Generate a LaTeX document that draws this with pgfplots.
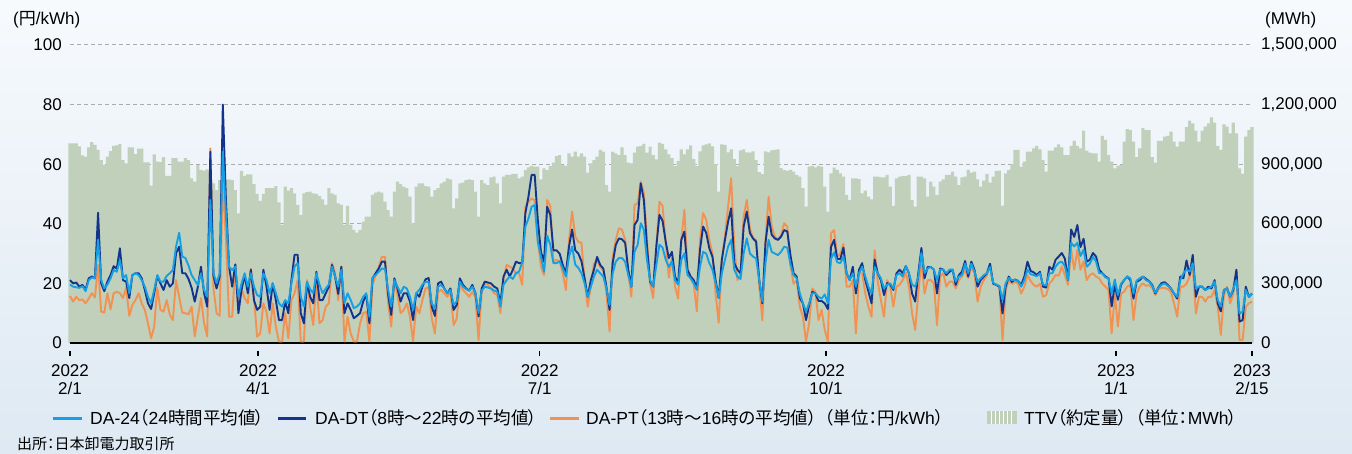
\documentclass[border=0pt]{standalone}
\usepackage{pgfplots}
\pgfplotsset{compat=1.18}
\usepackage{pgfplotstable}
\usepackage{fontspec}
\setmainfont{Liberation Sans}
\newfontfamily\jp{Noto Sans CJK JP}[RawFeature=+palt]
\newcommand{\J}[1]{{\jp #1}}
\definecolor{c24}{RGB}{20,160,228}
\definecolor{cdt}{RGB}{18,52,140}
\definecolor{cpt}{RGB}{242,146,82}
\definecolor{cttv}{RGB}{192,208,186}
\definecolor{gridc}{RGB}{172,172,172}
\definecolor{bgtop}{RGB}{247,250,253}
\definecolor{bgbot}{RGB}{222,233,243}
\newcommand{\myTk}{\fontsize{17}{18}\selectfont}
\newcommand{\myLg}{\fontsize{17.5}{20}\selectfont}
\newcommand{\myFn}{\fontsize{15}{17}\selectfont}

\pgfplotstableread{
d a b c t
0 19.6 21.1 15.8 1005000
1 18.9 20.0 13.9 1005000
2 18.7 20.3 15.5 1005000
3 18.5 18.9 14.4 990000
4 19.1 19.5 14.6 945000
5 17.4 17.9 13.3 938000
6 21.1 21.7 14.9 985000
7 22.0 22.3 16.7 1011000
8 21.7 21.7 15.3 997000
9 34.6 43.7 26.2 972000
10 21.1 20.0 10.5 921000
11 18.3 17.4 10.2 896000
12 19.6 20.6 16.7 938000
13 21.7 22.8 11.3 966000
14 24.5 25.8 16.7 992000
15 23.9 24.9 17.2 995000
16 27.9 31.8 16.7 1002000
17 21.7 21.1 15.1 921000
18 22.8 20.6 18.5 904000
19 16.7 15.1 9.1 985000
20 22.8 22.8 12.8 985000
21 23.4 23.4 14.4 951000
22 22.8 23.4 16.7 978000
23 21.1 21.7 13.3 978000
24 18.9 17.8 11.1 909000
25 15.5 13.3 6.6 909000
26 13.3 11.4 1.6 792000
27 17.8 16.7 5.5 950000
28 22.8 22.5 18.5 913000
29 20.6 20.0 11.1 910000
30 20.6 17.8 10.5 935000
31 22.5 21.1 14.4 841000
32 23.4 18.9 9.5 841000
33 24.5 20.0 7.7 930000
34 32.3 30.1 21.1 930000
35 37.0 32.3 15.5 913000
36 29.0 23.4 10.2 913000
37 28.5 23.4 10.0 930000
38 26.0 21.5 9.6 921000
39 22.8 18.5 12.2 829000
40 21.1 13.9 2.2 812000
41 19.4 18.9 8.8 896000
42 23.4 25.6 15.1 871000
43 17.8 16.7 6.6 868000
44 15.5 12.2 2.2 874000
45 48.0 64.2 65.3 804000
46 23.4 22.5 18.5 804000
47 20.1 18.3 10.0 770000
48 23.4 22.3 9.1 820000
49 64.2 80.0 55.0 820000
50 43.5 48.0 34.6 824000
51 25.6 25.6 8.8 824000
52 24.5 18.9 8.8 820000
53 25.6 26.4 26.0 770000
54 15.5 10.0 13.0 653000
55 19.9 17.8 18.3 866000
56 23.4 22.8 15.1 841000
57 18.9 16.7 13.3 849000
58 23.4 24.6 25.0 849000
59 18.9 14.3 15.1 800000
60 16.1 11.1 2.1 750000
61 15.5 12.2 3.2 715000
62 23.4 24.6 13.3 750000
63 21.1 18.9 10.5 779000
64 16.7 11.1 3.2 779000
65 20.0 20.0 13.3 779000
66 16.7 14.4 5.5 790000
67 13.3 7.7 0.5 708000
68 12.2 7.7 0.5 594000
69 14.4 13.9 10.0 787000
70 13.3 10.0 1.6 767000
71 20.0 21.1 14.4 779000
72 25.6 29.6 16.7 753000
73 26.8 29.6 21.1 695000
74 15.5 10.0 0.5 644000
75 12.2 6.6 0.5 753000
76 20.5 20.3 21.1 759000
77 18.0 15.5 12.0 762000
78 16.7 13.3 6.0 753000
79 23.4 23.9 21.1 750000
80 19.6 14.4 6.6 740000
81 16.7 14.4 7.7 723000
82 18.3 16.7 12.2 695000
83 19.6 18.9 13.3 779000
84 25.6 26.2 26.8 753000
85 22.3 22.3 23.4 745000
86 18.9 16.5 14.4 703000
87 24.5 25.6 25.6 695000
88 13.3 10.0 0.5 594000
89 16.7 13.3 8.8 690000
90 14.4 11.1 3.2 594000
91 11.7 8.3 0.5 569000
92 12.2 9.1 0.5 555000
93 13.3 10.0 6.6 569000
94 15.5 13.9 10.0 611000
95 16.7 16.1 10.5 636000
96 8.8 6.6 0.5 636000
97 22.0 21.7 19.5 745000
98 22.8 23.4 22.8 757000
99 23.9 25.0 25.6 762000
100 25.0 27.3 28.9 757000
101 24.8 27.3 28.9 711000
102 17.8 16.3 13.3 669000
103 12.2 9.4 5.5 636000
104 21.1 21.7 21.1 762000
105 18.9 18.3 16.1 812000
106 16.7 13.9 10.0 800000
107 18.9 16.7 11.1 787000
108 18.3 16.7 13.3 779000
109 15.5 13.9 8.8 737000
110 11.1 7.7 0.5 602000
111 16.7 16.7 12.2 787000
112 17.8 15.5 10.0 804000
113 19.6 18.9 14.4 804000
114 20.5 21.4 18.3 790000
115 20.5 21.8 18.6 787000
116 13.3 12.2 8.2 737000
117 11.6 9.1 3.2 770000
118 18.9 20.0 17.2 779000
119 19.5 20.6 17.8 804000
120 18.3 18.3 16.7 812000
121 16.7 16.7 15.5 829000
122 17.8 18.3 17.2 824000
123 12.8 11.1 6.0 678000
124 13.9 12.8 8.2 728000
125 20.6 21.7 20.0 804000
126 18.9 19.5 17.8 807000
127 18.1 18.3 16.7 820000
128 17.6 17.6 15.5 824000
129 18.9 19.5 17.2 820000
130 16.7 16.7 15.1 762000
131 10.0 8.9 1.0 636000
132 17.6 18.3 17.2 820000
133 18.9 20.6 20.0 804000
134 18.6 20.3 19.5 795000
135 18.3 20.0 18.3 834000
136 17.6 18.9 16.7 837000
137 17.2 18.3 16.1 804000
138 12.2 13.3 10.0 703000
139 19.5 22.3 21.3 837000
140 21.1 24.6 26.2 846000
141 22.3 22.3 25.6 846000
142 21.5 24.6 25.0 851000
143 23.4 27.3 23.4 851000
144 24.0 26.8 23.4 829000
145 27.1 26.8 19.5 837000
146 39.0 43.5 45.7 871000
147 41.8 49.1 47.4 884000
148 45.7 56.4 48.5 891000
149 46.3 56.4 47.9 888000
150 34.0 41.3 34.6 888000
151 29.0 30.6 25.6 824000
152 23.9 27.3 22.8 879000
153 36.0 45.7 48.0 870000
154 33.0 43.0 46.0 890000
155 26.8 31.1 27.4 908000
156 26.8 31.1 27.9 941000
157 27.4 30.0 27.4 946000
158 25.0 26.2 23.4 896000
159 22.3 23.4 17.8 891000
160 29.0 32.4 34.6 955000
161 32.4 38.1 44.1 938000
162 26.3 31.1 35.7 963000
163 25.2 30.0 34.0 938000
164 23.4 27.4 33.6 955000
165 20.0 21.7 21.1 938000
166 15.5 15.5 12.2 857000
167 18.9 21.1 18.9 904000
168 22.3 24.6 26.6 921000
169 24.6 28.9 27.7 938000
170 23.4 26.2 25.5 972000
171 22.3 25.0 24.4 963000
172 18.3 18.9 16.7 795000
173 12.7 11.1 3.9 762000
174 23.4 26.8 28.9 963000
175 27.3 32.9 34.6 955000
176 28.5 35.1 38.5 946000
177 28.5 34.8 38.0 985000
178 27.3 33.6 34.6 946000
179 22.8 24.6 23.4 908000
180 18.9 18.9 15.5 904000
181 30.6 39.6 46.3 958000
182 32.9 41.3 46.9 988000
183 40.2 53.6 54.1 992000
184 38.0 48.0 50.3 1002000
185 27.9 32.4 34.6 958000
186 21.1 20.6 20.0 988000
187 18.9 18.9 15.1 946000
188 26.2 32.4 32.4 924000
189 33.0 43.0 47.4 1008000
190 32.0 41.0 46.0 1002000
191 28.0 34.0 34.0 975000
192 25.5 28.5 22.0 950000
193 27.4 30.6 28.5 930000
194 21.1 22.3 18.9 890000
195 19.6 20.1 14.9 915000
196 27.9 34.6 34.6 975000
197 30.1 37.4 44.7 950000
198 22.8 24.6 24.6 975000
199 21.7 22.3 21.7 995000
200 20.1 21.1 19.6 925000
201 17.8 18.3 10.6 890000
202 25.6 31.3 34.6 965000
203 30.6 39.1 43.6 995000
204 30.0 36.9 41.3 1000000
205 26.8 31.7 34.6 1005000
206 24.6 28.9 30.2 990000
207 20.1 21.1 16.6 900000
208 15.1 15.1 6.8 762000
209 23.4 27.9 27.9 1000000
210 27.9 34.6 35.7 997000
211 32.3 40.7 45.7 960000
212 34.6 45.2 55.3 975000
213 24.6 26.8 32.2 925000
214 22.3 24.6 21.1 890000
215 21.5 23.4 23.4 970000
216 30.1 39.1 42.4 975000
217 35.1 44.1 48.0 960000
218 30.1 36.9 38.5 958000
219 29.0 35.1 35.1 965000
220 28.4 34.0 34.6 920000
221 21.1 21.1 18.9 860000
222 13.9 13.3 7.6 850000
223 26.8 33.6 34.6 965000
224 34.6 42.4 49.1 960000
225 30.6 36.3 39.1 970000
226 30.0 35.1 35.7 972000
227 29.5 34.6 34.6 975000
228 30.6 35.7 36.2 880000
229 32.3 37.9 40.2 870000
230 32.0 37.4 39.0 866000
231 26.5 29.5 26.0 871000
232 22.8 23.4 19.9 862000
233 21.7 22.3 21.1 846000
234 16.7 15.1 12.2 837000
235 13.3 13.3 8.8 779000
236 10.6 7.7 0.5 686000
237 13.3 12.8 6.6 888000
238 16.7 17.2 18.3 891000
239 16.7 16.6 17.2 884000
240 15.5 14.1 7.7 891000
241 14.9 14.1 11.1 888000
242 16.3 13.3 4.4 787000
243 13.3 11.4 0.5 661000
244 28.2 32.2 36.8 854000
245 30.4 34.6 37.9 883000
246 27.1 28.2 28.9 871000
247 26.8 28.2 30.0 854000
248 29.0 32.0 33.2 837000
249 23.4 23.4 18.9 745000
250 21.1 21.1 18.9 720000
251 23.4 25.6 21.1 829000
252 18.9 16.6 3.2 829000
253 23.4 24.6 23.4 825000
254 25.6 26.8 23.4 753000
255 22.3 21.1 16.6 767000
256 18.9 17.3 12.2 737000
257 16.6 13.3 8.8 723000
258 25.6 28.0 31.1 837000
259 23.4 23.4 20.6 837000
260 21.7 21.1 14.4 834000
261 18.3 16.1 8.8 834000
262 19.6 20.1 21.1 846000
263 20.0 19.6 18.9 787000
264 18.3 17.8 12.2 690000
265 22.8 23.4 18.9 829000
266 23.4 24.6 19.5 837000
267 22.3 23.4 21.1 840000
268 25.8 25.8 23.6 840000
269 23.4 23.4 18.9 846000
270 19.6 16.6 10.0 720000
271 18.9 13.9 4.4 686000
272 22.3 23.4 16.6 837000
273 30.2 31.9 27.9 837000
274 23.4 21.7 16.6 829000
275 25.0 25.5 21.1 737000
276 25.5 25.5 21.1 812000
277 24.6 24.6 20.0 787000
278 21.1 16.6 6.0 745000
279 24.6 25.0 22.3 812000
280 24.6 24.6 23.4 824000
281 23.4 22.8 18.9 846000
282 24.6 23.9 20.6 846000
283 24.6 24.6 20.6 862000
284 20.6 19.5 18.3 837000
285 22.3 22.8 21.1 795000
286 22.8 23.9 22.3 834000
287 26.6 27.5 24.6 837000
288 23.4 22.3 21.8 871000
289 26.6 27.3 25.5 857000
290 24.0 24.6 23.4 862000
291 20.6 18.9 13.9 824000
292 21.7 21.1 18.9 787000
293 22.8 22.3 21.1 817000
294 23.4 23.4 22.8 851000
295 25.5 26.6 26.4 807000
296 20.2 19.9 19.9 837000
297 19.6 19.5 19.5 866000
298 19.1 18.9 18.9 868000
299 14.4 9.9 0.9 691000
300 20.0 18.9 17.7 854000
301 21.8 22.3 21.1 871000
302 21.1 20.5 19.9 901000
303 21.1 21.3 20.5 972000
304 20.9 20.8 19.9 972000
305 18.9 19.5 16.6 888000
306 21.1 22.3 18.9 913000
307 24.6 27.3 22.8 963000
308 23.1 24.2 20.8 963000
309 22.8 23.7 19.5 980000
310 22.4 22.8 18.9 992000
311 23.4 23.9 19.9 975000
312 19.6 18.9 15.5 921000
313 19.3 18.6 16.1 862000
314 23.4 25.6 19.9 968000
315 23.4 24.6 21.1 968000
316 25.6 27.9 22.8 985000
317 26.9 29.0 22.6 1000000
318 27.3 30.2 25.6 985000
319 25.8 28.3 22.8 946000
320 21.1 21.1 19.5 946000
321 33.6 38.1 31.3 992000
322 32.4 35.6 24.6 1018000
323 33.6 39.6 31.3 992000
324 29.2 32.2 24.6 980000
325 31.3 35.0 27.4 1069000
326 25.6 27.3 21.1 968000
327 26.6 27.9 22.8 958000
328 28.9 30.2 23.4 955000
329 27.3 29.0 22.3 955000
330 23.4 24.6 21.7 913000
331 23.4 23.4 19.9 1042000
332 22.0 22.3 18.9 1022000
333 21.7 21.7 17.8 946000
334 16.6 12.3 3.2 913000
335 21.3 19.5 16.6 879000
336 16.1 14.5 5.5 891000
337 19.9 19.5 16.6 896000
338 21.1 21.1 17.2 1013000
339 22.3 22.3 18.9 1076000
340 21.7 21.1 19.5 1072000
341 16.6 14.9 7.7 1013000
342 20.9 20.6 16.6 935000
343 21.7 21.1 18.9 980000
344 22.3 22.3 20.0 1081000
345 21.1 21.5 19.2 1072000
346 20.6 20.7 19.4 1072000
347 19.2 19.5 18.5 935000
348 16.9 16.6 16.1 908000
349 18.5 18.7 18.1 1018000
350 19.6 20.1 18.5 1018000
351 20.0 20.4 18.5 1039000
352 19.2 19.5 18.1 1042000
353 18.3 18.3 17.2 1064000
354 16.6 16.6 13.3 1013000
355 15.5 14.9 8.8 988000
356 21.1 22.3 18.9 1013000
357 23.4 21.7 18.9 1013000
358 24.6 27.7 19.9 1086000
359 24.0 22.8 22.3 1119000
360 26.8 29.6 25.5 1106000
361 18.3 15.5 9.9 1069000
362 18.9 18.9 15.5 1013000
363 18.9 18.9 15.5 1069000
364 17.8 17.8 13.9 1089000
365 18.3 18.9 15.5 1106000
366 18.9 18.3 15.5 1136000
367 20.6 21.1 17.8 1109000
368 14.5 13.3 12.2 992000
369 12.2 10.6 2.7 972000
370 17.8 17.8 16.1 1101000
371 18.3 18.3 18.9 1089000
372 15.5 15.5 13.3 1055000
373 18.3 17.8 16.6 1109000
374 21.1 24.6 24.6 1055000
375 9.9 7.2 1.0 879000
376 10.5 7.7 1.0 851000
377 17.8 18.9 12.2 1039000
378 15.5 15.5 13.3 1072000
379 16.6 16.6 13.9 1086000
}\data

\begin{document}
\begin{tikzpicture}[x=1pt,y=1pt]
\shade[top color=bgtop, bottom color=bgbot] (0,0) rectangle (1352,453);
\useasboundingbox (0,0) rectangle (1352,453);

% TTV bars, right axis
\begin{axis}[
  at={(70pt,110pt)}, anchor=south west, scale only axis,
  width=1182pt, height=298pt,
  xmin=0, xmax=379, ymin=0, ymax=1500000,
  clip=false, axis line style={draw=none},
  xtick=\empty,
  ytick={0,300000,600000,900000,1200000,1500000},
  yticklabel pos=right, scaled y ticks=false,
  ymajorgrids, grid style={gridc, dash pattern=on 4pt off 3pt, line width=1pt},
  y tick style={draw=none},
  yticklabel style={anchor=west, inner sep=0pt, xshift=9pt, font=\myTk,
    /pgf/number format/.cd, fixed, 1000 sep={,}, assume math mode=true},
]
\addplot[ybar, bar width=1.02, bar shift=0pt, fill=cttv, draw=none] table[x=d, y=t]{\data};
\end{axis}

% price lines, left axis
\begin{axis}[
  at={(70pt,110pt)}, anchor=south west, scale only axis,
  width=1182pt, height=298pt,
  xmin=0, xmax=379, ymin=0, ymax=100,
  clip=false,
  axis x line*=bottom, axis y line*=left,
  x axis line style={-, black, line width=1.3pt},
  y axis line style={draw=none},
  ytick={0,20,40,60,80,100},
  y tick style={draw=none},
  yticklabel style={anchor=east, inner sep=0pt, xshift=-8pt, font=\myTk,
    /pgf/number format/assume math mode=true},
  xtick={0,60.3,150.6,242.4,335.4,379},
  xticklabels={{2022\\2/1},{2022\\4/1},{2022\\7/1},{2022\\10/1},{2023\\1/1},{2023\\2/15}},
  xtick align=outside, major tick length=5pt,
  x tick style={black, line width=1.2pt, yshift=-8pt},
  xticklabel style={align=center, font=\myTk, inner sep=0pt, yshift=-16pt},
]
\addplot[cpt, line width=1.9pt, line join=round, mark=none] table[x=d, y=c]{\data};
\addplot[cdt, line width=1.9pt, line join=round, mark=none] table[x=d, y=b]{\data};
\addplot[c24, line width=1.9pt, line join=round, mark=none] table[x=d, y=a]{\data};
\end{axis}

% unit labels
\node[anchor=west, inner sep=0pt, font=\myTk] at (13,433) {(\J{円}/kWh)};
\node[anchor=west, inner sep=0pt, font=\myTk] at (1265,433) {(MWh)};

% legend
\draw[c24, line width=3pt] (53,35) -- (82,35);
\node[anchor=west, inner sep=0pt, font=\myLg] at (90,35) {DA-24\J{（}24\J{時間平均値）}};
\draw[cdt, line width=3pt] (278,35) -- (306,35);
\node[anchor=west, inner sep=0pt, font=\myLg] at (315,35) {DA-DT\J{（}8\J{時～}22\J{時の平均値）}};
\draw[cpt, line width=3pt] (550,35) -- (579,35);
\node[anchor=west, inner sep=0pt, font=\myLg] at (586,35) {DA-PT\J{（}13\J{時～}16\J{時の平均値）}\hspace{8pt}\J{（単位：円}/kWh\J{）}};
\fill[cttv] (987,29) rectangle (1017,42);
\foreach \s in {991,995,999,1003,1007,1011} \draw[white, line width=1pt] (\s,29) -- (\s,42);
\node[anchor=west, inner sep=0pt, font=\myLg] at (1024,35) {TTV\J{（約定量）}\hspace{8pt}\J{（単位：}MWh\J{）}};

% source
\node[anchor=west, inner sep=0pt, font=\myFn] at (17,9) {\J{出所：日本卸電力取引所}};
\end{tikzpicture}
\end{document}
